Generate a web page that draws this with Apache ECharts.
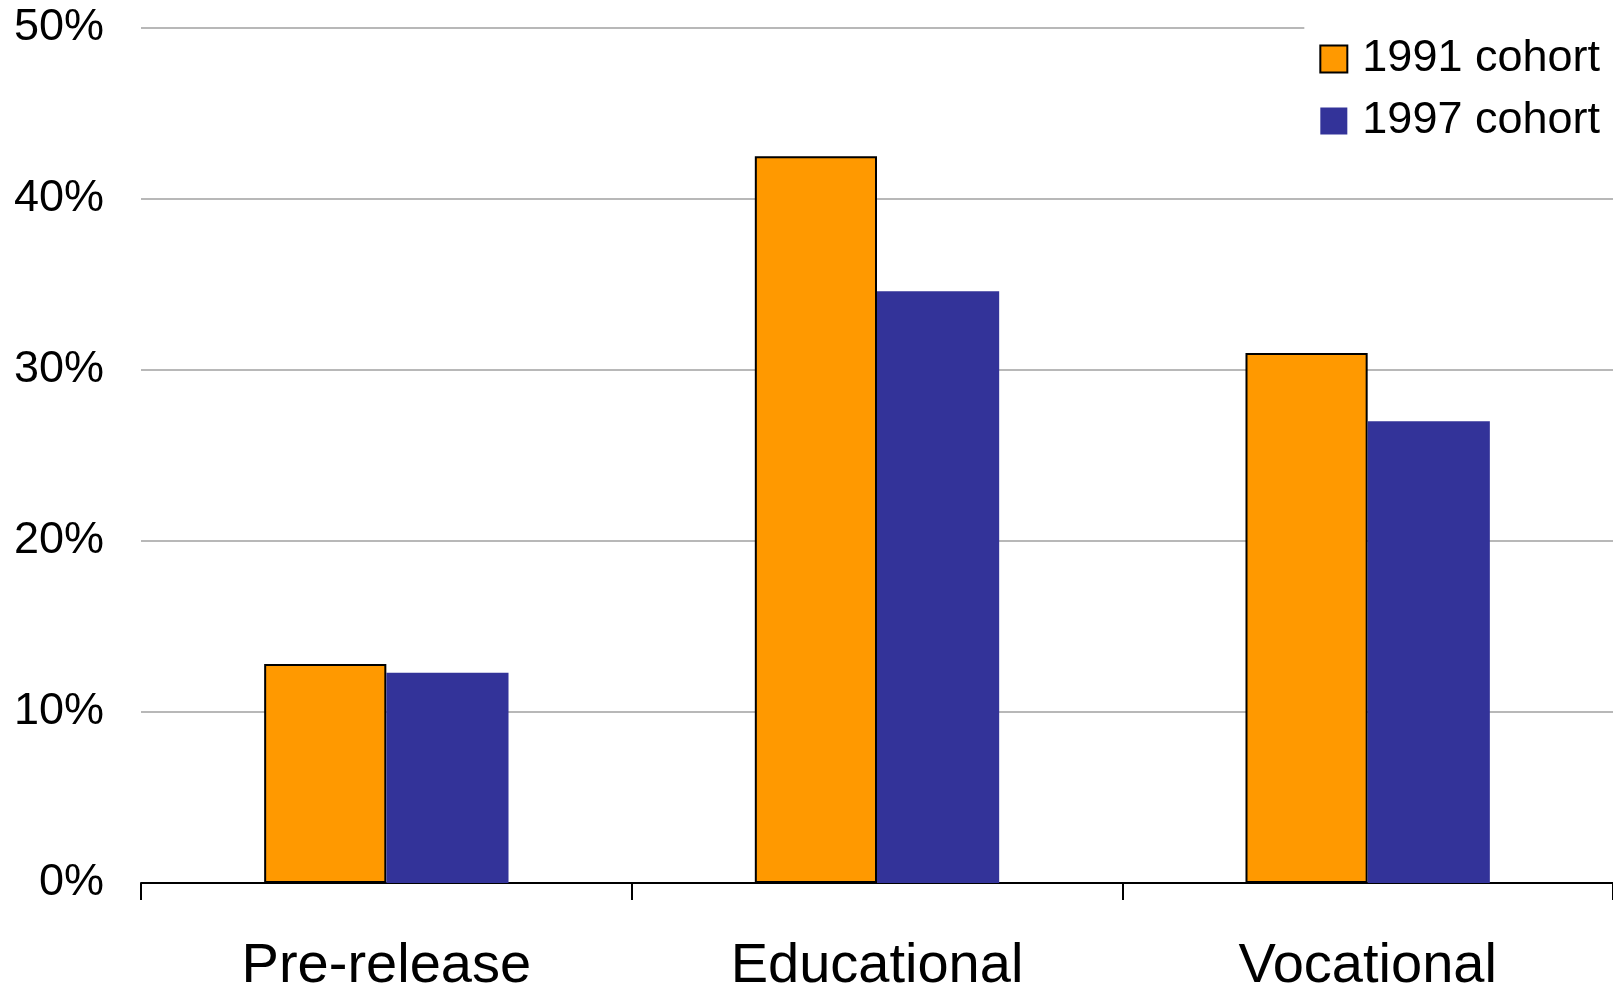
<!DOCTYPE html>
<html>
<head>
<meta charset="utf-8">
<style>
  html, body { margin: 0; padding: 0; background: #fff; }
  #chart { width: 1613px; height: 988px; }
</style>
<script src="https://cdn.jsdelivr.net/npm/echarts@6/dist/echarts.min.js"></script>
</head>
<body>
<div id="chart"></div>
<script>
// Share of each cohort taking part in each program type (%)
const categories = ['Pre-release', 'Educational', 'Vocational'];
const cohort1991 = [12.8, 42.5, 31.0];
const cohort1997 = [12.3, 34.6, 27.0];
const seriesNames = ['1991 cohort', '1997 cohort'];
const yTicks = { min: 0, max: 50, interval: 10 };

const FONT = '"Liberation Sans", Arial, sans-serif';

const chart = echarts.init(document.getElementById('chart'), null, { renderer: 'canvas' });

chart.setOption({
  animation: false,
  backgroundColor: '#ffffff',
  textStyle: { fontFamily: FONT },
  grid: { left: 141, right: 0, top: 28, bottom: 105, containLabel: false, outerBoundsMode: 'none' },
  legend: {
    right: 0,
    top: 14,
    orient: 'vertical',
    backgroundColor: '#ffffff',
    padding: [22, 13, 10, 15],
    icon: 'rect',
    itemWidth: 27,
    itemHeight: 27,
    itemGap: 16,
    textStyle: { fontFamily: FONT, fontSize: 45, color: '#000', padding: [0, 0, 0, 10], lineHeight: 46 },
    data: [
      { name: seriesNames[0], itemStyle: { color: '#FF9900', borderColor: '#000', borderWidth: 2 } },
      { name: seriesNames[1], itemStyle: { color: '#333399', borderWidth: 0 } }
    ]
  },
  xAxis: {
    type: 'category',
    data: categories,
    boundaryGap: true,
    axisLine: { show: true, lineStyle: { color: '#000', width: 2 } },
    axisTick: { show: true, length: 17, interval: 0, lineStyle: { color: '#000', width: 2 } },
    axisLabel: { fontFamily: FONT, fontSize: 56, color: '#000', margin: 56, interval: 0 },
    splitLine: { show: false }
  },
  yAxis: {
    type: 'value',
    min: yTicks.min,
    max: yTicks.max,
    interval: yTicks.interval,
    axisLine: { show: false },
    axisTick: { show: false },
    axisLabel: { fontFamily: FONT, fontSize: 45, color: '#000', margin: 37, formatter: '{value}%' },
    splitLine: { show: true, lineStyle: { color: '#a0a0a0', width: 1.5 } }
  },
  series: [
    {
      name: seriesNames[0],
      type: 'bar',
      data: cohort1991,
      barWidth: '24.9%',
      barGap: '0%',
      itemStyle: { color: '#FF9900', borderColor: '#000', borderWidth: 2 }
    },
    {
      name: seriesNames[1],
      type: 'bar',
      data: cohort1997,
      barWidth: '24.9%',
      barGap: '0%',
      itemStyle: { color: '#333399' }
    }
  ]
});
</script>
</body>
</html>
